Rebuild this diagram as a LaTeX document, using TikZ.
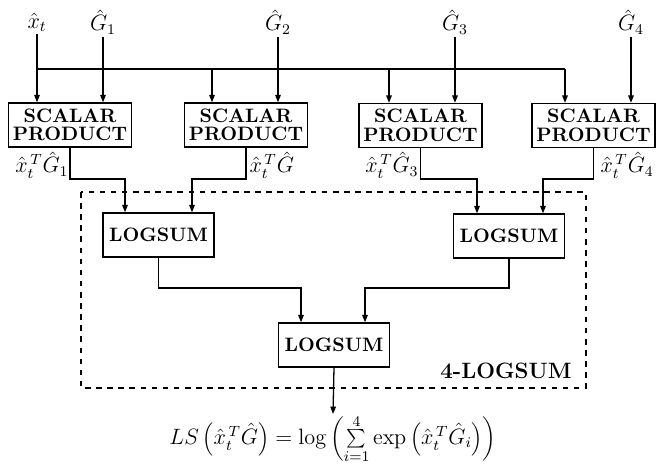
\documentclass[tikz,border=0pt]{standalone}
\usetikzlibrary{arrows.meta}
\begin{document}
\begin{tikzpicture}[x=0.54pt,y=-0.54pt,
  line width=0.7pt,
  arr/.style={-{Triangle[length=4pt,width=3pt]}},
  spbox/.style={draw,minimum width=66.4pt,minimum height=23.8pt,inner sep=0pt,align=center,font=\fontsize{10.5}{11}\selectfont\bfseries},
  lsbox/.style={draw,minimum width=60pt,minimum height=23.8pt,inner sep=0pt,font=\fontsize{10.5}{11}\selectfont\bfseries},
  lab/.style={inner sep=1pt,font=\fontsize{12}{14}\selectfont}]
\useasboundingbox (0,0) rectangle (663,465);
% inputs
\node[lab] (xt) at (37,22) {$\hat{x}_t$};
\node[lab] (g1) at (103,22) {$\hat{G}_1$};
\node[lab] (g2) at (278,22) {$\hat{G}_2$};
\node[lab] (g3) at (455,22) {$\hat{G}_3$};
\node[lab] (g4) at (631,22) {$\hat{G}_4$};
% scalar product boxes
\node[spbox] (sp1) at (70,125) {SCALAR\\[-1pt]PRODUCT};
\node[spbox] (sp2) at (246,125) {SCALAR\\[-1pt]PRODUCT};
\node[spbox] (sp3) at (420.5,125.5) {SCALAR\\[-1pt]PRODUCT};
\node[spbox] (sp4) at (593.5,125.5) {SCALAR\\[-1pt]PRODUCT};
% bus
\coordinate (b1) at (37,69);
\coordinate (b2) at (212,69);
\coordinate (b3) at (389,69);
\coordinate (b4) at (565,69);
\draw[arr] (xt) -- (xt |- sp1.north);
\draw[arr] (g1) -- (g1 |- sp1.north);
\draw[arr] (g2) -- (g2 |- sp2.north);
\draw[arr] (g3) -- (g3 |- sp3.north);
\draw[arr] (g4) -- (g4 |- sp4.north);
\draw (b1) -- (b4);
\draw[arr] (b2) -- (b2 |- sp2.north);
\draw[arr] (b3) -- (b3 |- sp3.north);
\draw[arr] (b4) -- (b4 |- sp4.north);
% dashed frame
\draw[dashed] (81,192) rectangle (586,388);
\node[font=\large\bfseries] (frame) at (506,371) {4-LOGSUM};
% logsum boxes
\node[lsbox] (ls1) at (158.5,235) {LOGSUM};
\node[lsbox] (ls2) at (509,236) {LOGSUM};
\node[lsbox] (ls3) at (334,345) {LOGSUM};
% scalar product outputs
\coordinate (m1) at (125,179);
\coordinate (m2) at (192,179);
\coordinate (m3) at (477,179);
\coordinate (m4) at (543,179);
\draw[arr] (sp1.south) |- (m1) -- (m1 |- ls1.north);
\draw[arr] (sp2.south) |- (m2) -- (m2 |- ls1.north);
\draw[arr] (sp3.south) |- (m3) -- (m3 |- ls2.north);
\draw[arr] (sp4.south) |- (m4) -- (m4 |- ls2.north);
\node[lab,anchor=east] (l1) at (71,165) {${\hat{x}_t}^{\,T}\hat{G}_1$};
\node[lab,anchor=west] (l2) at (247,165) {${\hat{x}_t}^{\,T}\hat{G}$};
\node[lab,anchor=east] (l3) at (421,165) {${\hat{x}_t}^{\,T}\hat{G}_3$};
\node[lab,anchor=west] (l4) at (598,165) {${\hat{x}_t}^{\,T}\hat{G}_4$};
% logsum tree
\coordinate (m5) at (301,288);
\coordinate (m6) at (365,288);
\draw[arr] (ls1.south) |- (m5) -- (m5 |- ls3.north);
\draw[arr] (ls2.south) |- (m6) -- (m6 |- ls3.north);
% output
\node[lab,inner sep=0pt,anchor=north] (out) at (333,414) {$LS\left({\hat{x}_t}^{\,T}\hat{G}\right)=\log\left(\sum\limits_{i=1}^{4}\exp\left({\hat{x}_t}^{\,T}\hat{G}_i\right)\right)$};
\draw[arr] (ls3.south) -- (out.north);
\end{tikzpicture}
\end{document}
